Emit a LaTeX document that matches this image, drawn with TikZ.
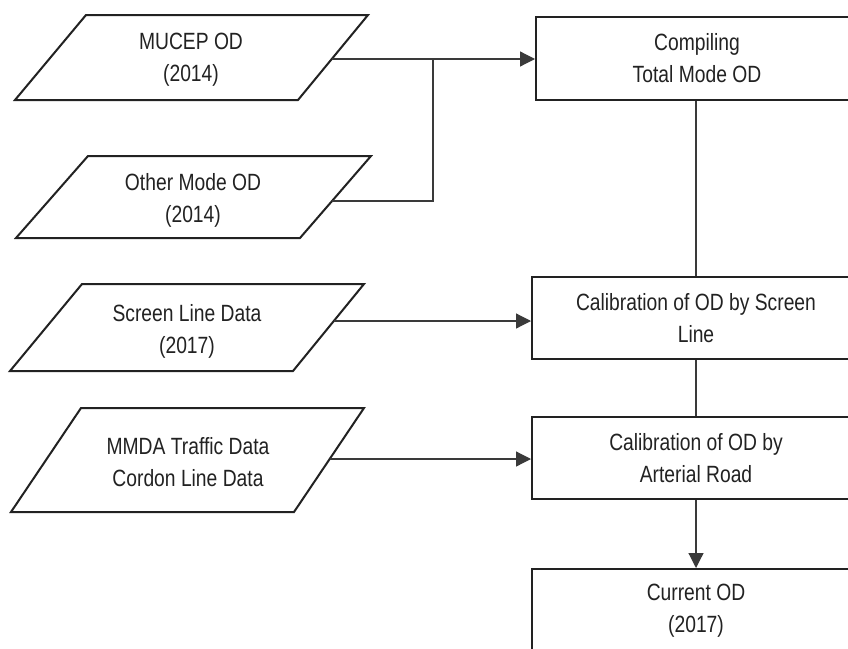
\documentclass[tikz,border=0pt]{standalone}
\usepackage{fontspec}
\setmainfont{Liberation Sans}[FakeStretch=0.82]
\usetikzlibrary{arrows.meta}
\newcommand\lbfont{\fontsize{23.5}{32}\selectfont}
\definecolor{ink}{HTML}{222222}
\definecolor{wire}{HTML}{3A3A3A}
\tikzset{
  databox/.style={draw=ink, line width=2pt, line join=miter},
  procbox/.style={draw=ink, line width=2pt, minimum height=82pt, align=center,
                  font=\lbfont, text=ink, inner sep=0pt},
  lbl/.style={align=center, font=\lbfont, text=ink, inner sep=0pt},
  link/.style={draw=wire, line width=1.2pt},
  arr/.style={link, -{Triangle[length=15pt,width=15pt]}}
}
\begin{document}
\begin{tikzpicture}[x=1pt, y=-1pt]
  \useasboundingbox (0,0) rectangle (848,648);
  \clip (0,0) rectangle (848,648);
  \fill[white] (0,0) rectangle (848,648);

  % input data (parallelograms)
  \draw[databox] (86,15) -- (368,15) -- (298,100) -- (15,100) -- cycle;
  \node[lbl] (mucep) at (191,60) {MUCEP OD\\(2014)};
  \coordinate (mucepR) at (332,59);

  \draw[databox] (88,156) -- (371,156) -- (300,238) -- (16,238) -- cycle;
  \node[lbl] (other) at (193,200) {Other Mode OD\\(2014)};
  \coordinate (otherR) at (332,201);

  \draw[databox] (82,284) -- (364,284) -- (293,371) -- (10,371) -- cycle;
  \node[lbl] (scrd) at (187,331) {Screen Line Data\\(2017)};
  \coordinate (scrdR) at (334,321);

  \draw[databox] (81,408) -- (364,408) -- (294,512) -- (11,512) -- cycle;
  \node[lbl] (mmda) at (188,462) {MMDA Traffic Data\\Cordon Line Data};
  \coordinate (mmdaR) at (330,459);

  % processing steps
  \node[procbox, minimum width=322pt, minimum height=83pt] (comp) at (697,58.5)
       {Compiling\\Total Mode OD};
  \node[procbox, minimum width=328pt] (scr) at (696,318)
       {Calibration of OD by Screen\\Line};
  \node[procbox, minimum width=328pt] (art) at (696,458)
       {Calibration of OD by\\Arterial Road};
  \node[procbox, minimum width=328pt, minimum height=84pt] (cur) at (696,611)
       {Current OD\\(2017)};

  % connectors
  \coordinate (jn) at (433,59);
  \draw[link] (otherR) -| (jn);
  \draw[arr] (mucepR) -- (mucepR -| comp.west);
  \draw[arr] (scrdR) -- (scrdR -| scr.west);
  \draw[arr] (mmdaR) -- (mmdaR -| art.west);
  \draw[link] (comp.south -| scr.north) -- (scr.north);
  \draw[link] (scr.south) -- (art.north);
  \draw[arr] (art.south) -- (cur.north);
\end{tikzpicture}
\end{document}
